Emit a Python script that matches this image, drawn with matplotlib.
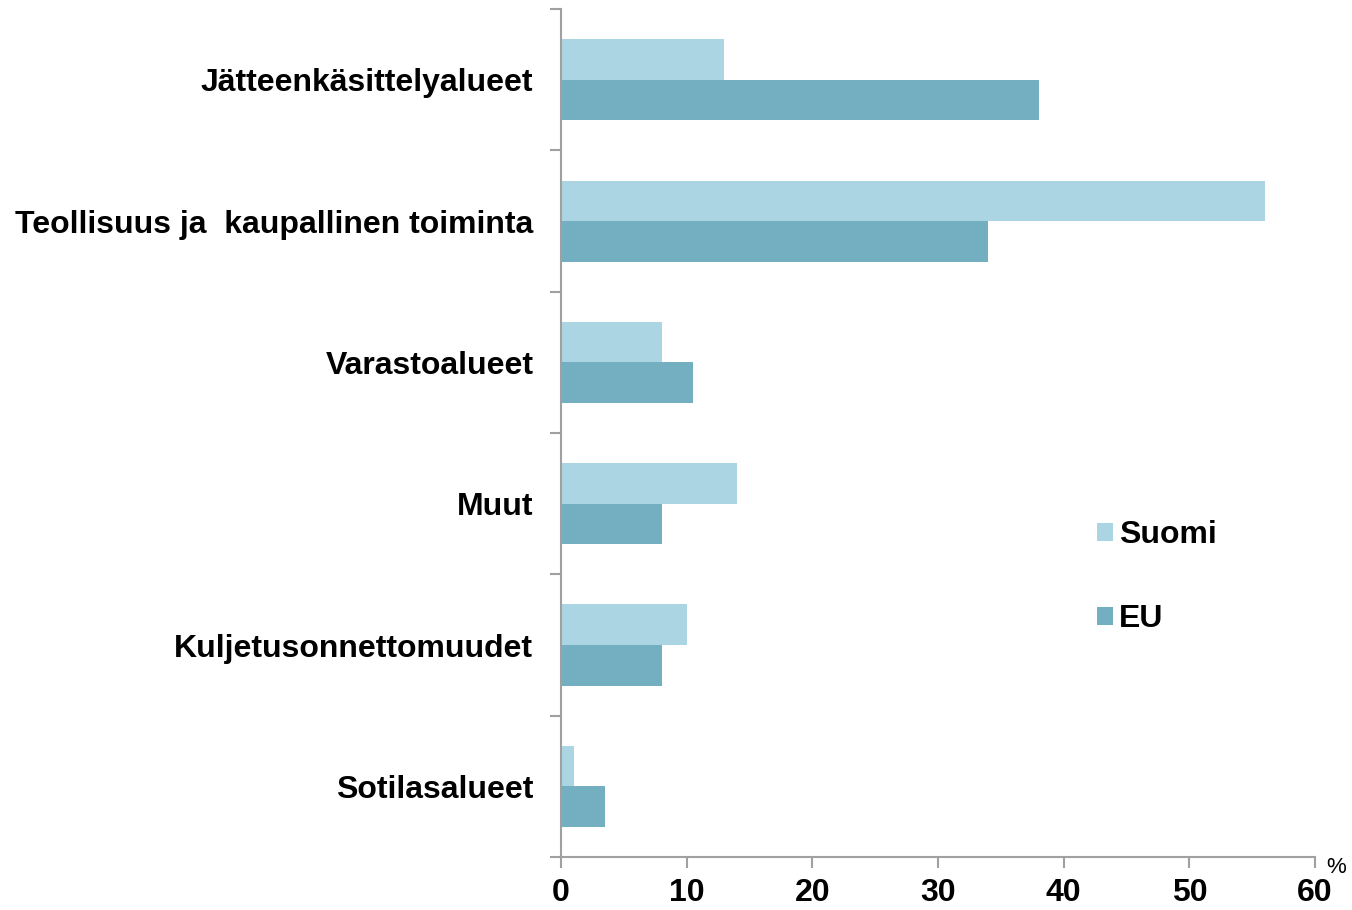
import numpy as np
import matplotlib.pyplot as plt

categories = ["Jätteenkäsittelyalueet", "Teollisuus ja  kaupallinen toiminta",
              "Varastoalueet", "Muut", "Kuljetusonnettomuudet", "Sotilasalueet"]
suomi = [13, 56, 8, 14, 10, 1]
eu = [38, 34, 10.5, 8, 8, 3.5]
xticks = [0, 10, 20, 30, 40, 50, 60]

c_suomi = "#abd5e2"
c_eu = "#74afc1"
grey = "#a0a0a0"

plt.rcParams["font.family"] = ["Liberation Sans", "DejaVu Sans"]

fig = plt.figure(figsize=(13.52, 9.1), dpi=100)
ax = fig.add_axes([0.415, 0.0582, 0.5577, 0.9318])

y = np.arange(len(categories))
h = 0.287
ax.barh(y - h / 2, suomi, height=h, color=c_suomi, label="Suomi")
ax.barh(y + h / 2, eu, height=h, color=c_eu, label="EU")

ax.set_ylim(len(categories) - 0.5, -0.5)
ax.set_xlim(0, 60)
ax.set_xticks(xticks)
ax.set_xticklabels([str(t) for t in xticks], fontsize=23, fontweight="bold")

# category labels, ticks on category boundaries
ax.set_yticks(np.arange(len(categories) + 1) - 0.5)
ax.set_yticklabels([])
ax.set_yticks(y, minor=True)
ax.set_yticklabels(categories, minor=True, fontsize=23, fontweight="bold")
ax.tick_params(axis="y", which="minor", length=0, pad=20)
ax.tick_params(axis="y", which="major", length=8, color=grey, width=1.5)
ax.tick_params(axis="x", length=8, color=grey, width=1.5, pad=7)

for s in ["top", "right"]:
    ax.spines[s].set_visible(False)
for s in ["left", "bottom"]:
    ax.spines[s].set_color(grey)
    ax.spines[s].set_linewidth(1.5)

ax.text(1.015, -0.0, "%", transform=ax.transAxes, fontsize=16, va="top", ha="left")

fig.legend(loc="upper left", bbox_to_anchor=(0.79, 0.46), frameon=False,
           prop={"size": 23, "weight": "bold"}, labelspacing=1.7,
           handlelength=0.5, handleheight=0.5, handletextpad=0.2)

fig.savefig("out.png", dpi=100)
